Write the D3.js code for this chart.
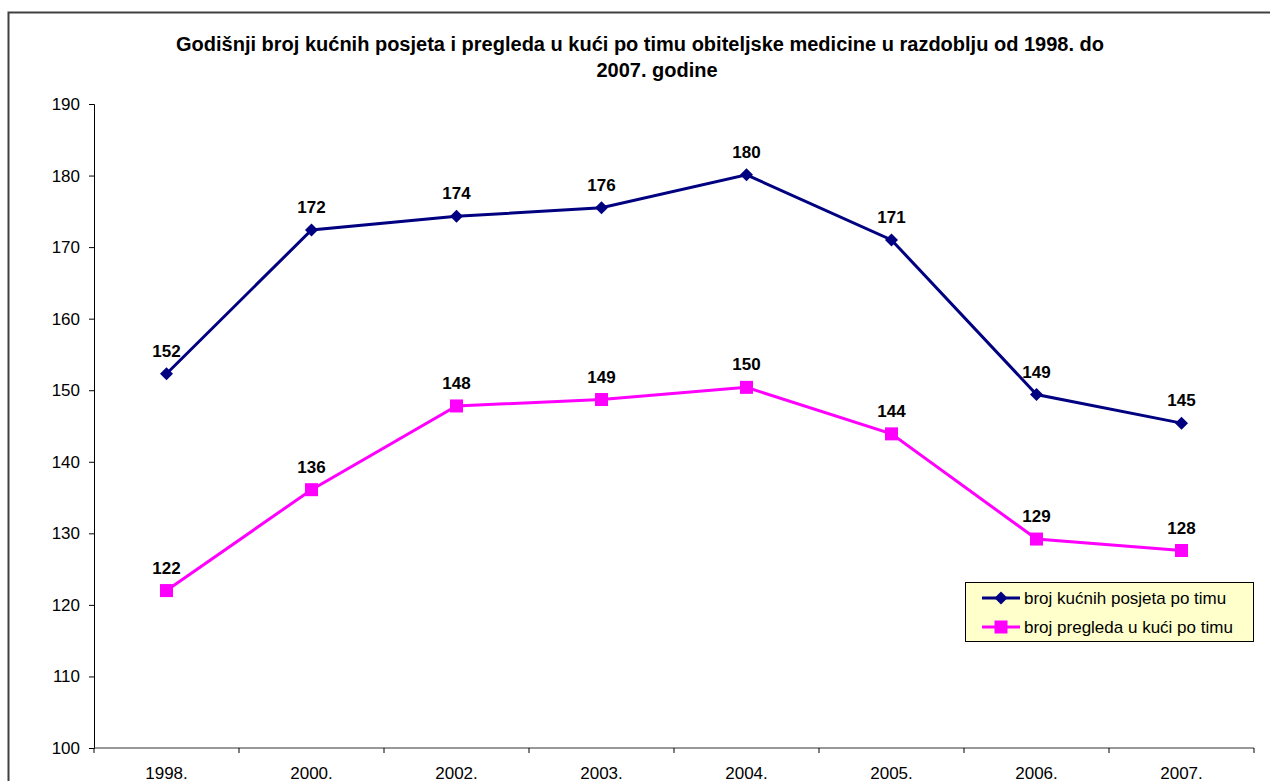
<!DOCTYPE html>
<html>
<head>
<meta charset="utf-8">
<script src="https://cdn.jsdelivr.net/npm/d3@7"></script>
<style>
  body { margin: 0; background: #fff; }
  svg { display: block; font-family: Arial, "Liberation Sans", sans-serif; }
</style>
</head>
<body>
<div id="chart"></div>
<script>
// chart data
var years = ["1998.", "2000.", "2002.", "2003.", "2004.", "2005.", "2006.", "2007."]
var posjete = [152.3, 172.4, 174.3, 175.5, 180.1, 171.0, 149.4, 145.4]
var pregledi = [122.0, 136.1, 147.8, 148.7, 150.4, 143.9, 129.2, 127.6]
var yTicks = [100, 110, 120, 130, 140, 150, 160, 170, 180, 190]
var seriesNames = ["broj kućnih posjeta po timu", "broj pregleda u kući po timu"]

var w = 1270, h = 781
var svg = d3.select('#chart').append('svg')
  .attr('width', w)
  .attr('height', h)

// outer chart border (runs off the page right and bottom)
svg.append('rect')
  .attr('x', 8.5).attr('y', 12.5)
  .attr('width', 1300).attr('height', 900)
  .attr('fill', 'none')
  .attr('stroke', '#404040')
  .attr('stroke-width', 2)

// title
var title = svg.append('text')
  .attr('text-anchor', 'middle')
  .attr('font-weight', 'bold')
  .attr('font-size', 20)
  .attr('fill', '#000')
title.append('tspan').attr('x', 640).attr('y', 51)
  .text("Godišnji broj kućnih posjeta i pregleda u kući po timu obiteljske medicine u razdoblju od 1998. do")
title.append('tspan').attr('x', 657).attr('y', 77)
  .text("2007. godine")

var pLeft = 94, pRight = 1254, pTop = 104, pBottom = 748

var x = d3.scaleBand().domain(years).range([pLeft, pRight])
var y = d3.scaleLinear().domain([100, 190]).range([pBottom, pTop])

// y axis
var yAxis = svg.append('g')
  .attr('transform', 'translate(' + pLeft + ',0)')
  .call(d3.axisLeft(y).tickValues(yTicks).tickSize(5).tickPadding(9))
yAxis.select('.domain').attr('stroke', '#000')
yAxis.selectAll('.tick line').attr('stroke', '#000')
yAxis.selectAll('text').attr('font-size', 17).attr('fill', '#000')
  .attr('font-family', 'Arial, "Liberation Sans", sans-serif')

// x axis, ticks at category boundaries
var xAxis = svg.append('g')
  .attr('transform', 'translate(0,' + pBottom + ')')
xAxis.append('line')
  .attr('x1', pLeft).attr('x2', pRight)
  .attr('stroke', '#333')
xAxis.selectAll('line.tk')
  .data(years.concat(['end']))
  .enter()
  .append('line')
  .attr('class', 'tk')
  .attr('x1', function(d, i){ return pLeft + i * x.bandwidth() })
  .attr('x2', function(d, i){ return pLeft + i * x.bandwidth() })
  .attr('y1', 0).attr('y2', 5)
  .attr('stroke', '#000')
xAxis.selectAll('text')
  .data(years)
  .enter()
  .append('text')
  .attr('x', function(d){ return x(d) + x.bandwidth() / 2 })
  .attr('y', 31)
  .attr('text-anchor', 'middle')
  .attr('font-size', 17)
  .text(function(d){ return d })

var cx = function(d, i){ return x(years[i]) + x.bandwidth() / 2 }
var line = d3.line()
  .x(function(d, i){ return cx(d, i) })
  .y(function(d){ return y(d) })

var series = [
  {values: posjete, color: '#000080', marker: 'diamond'},
  {values: pregledi, color: '#FF00FF', marker: 'square'}
]

function drawMarker(g, type, color){
  if (type == 'diamond'){
    g.append('path').attr('d', 'M0,-6.5L6.5,0L0,6.5L-6.5,0Z').attr('fill', color)
  } else {
    g.append('rect').attr('x', -6.5).attr('y', -6.5).attr('width', 13).attr('height', 13).attr('fill', color)
  }
}

series.forEach(function(s){
  svg.append('path')
    .datum(s.values)
    .attr('d', line)
    .attr('fill', 'none')
    .attr('stroke', s.color)
    .attr('stroke-width', 3)
  s.values.forEach(function(v, i){
    var g = svg.append('g')
      .attr('transform', 'translate(' + cx(v, i) + ',' + y(v) + ')')
    drawMarker(g, s.marker, s.color)
  })
  svg.selectAll(null)
    .data(s.values)
    .enter()
    .append('text')
    .attr('x', function(d, i){ return cx(d, i) })
    .attr('y', function(d){ return y(d) - 17 })
    .attr('text-anchor', 'middle')
    .attr('font-weight', 'bold')
    .attr('font-size', 17)
    .text(function(d){ return Math.round(d) })
})

// legend
var lg = svg.append('g').attr('transform', 'translate(965,582)')
lg.append('rect')
  .attr('x', 0.5).attr('y', 0.5)
  .attr('width', 288).attr('height', 59)
  .attr('fill', '#FFFFCC')
  .attr('stroke', '#000')
series.forEach(function(s, i){
  var ly = 16 + i * 29
  lg.append('line')
    .attr('x1', 17).attr('x2', 55)
    .attr('y1', ly).attr('y2', ly)
    .attr('stroke', s.color)
    .attr('stroke-width', 3)
  var m = lg.append('g').attr('transform', 'translate(36,' + ly + ')')
  drawMarker(m, s.marker, s.color)
  lg.append('text')
    .attr('x', 59).attr('y', ly + 6)
    .attr('font-size', 17)
    .text(seriesNames[i])
})
</script>
</body>
</html>
